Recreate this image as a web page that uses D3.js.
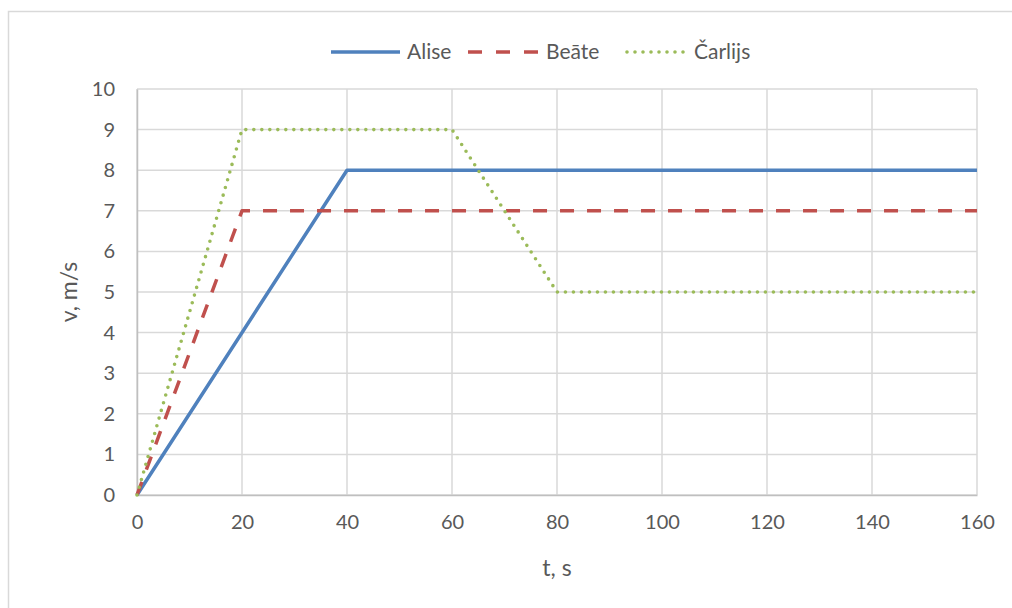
<!DOCTYPE html>
<html>
<head>
<meta charset="utf-8">
<script src="https://cdn.jsdelivr.net/npm/d3@7"></script>
<style>
  html, body { margin: 0; padding: 0; background: #fff; }
  svg { display: block; }
  text { font-family: Lato, "Open Sans", sans-serif; fill: #595959; }
</style>
</head>
<body>
<svg id="chart" width="1012" height="608"></svg>
<script>
// Speed over time for three runners
const seriesNames = ["Alise", "Beāte", "Čarlijs"];
const aliseT = [0, 40, 160];
const aliseV = [0, 8, 8];
const beateT = [0, 20, 160];
const beateV = [0, 7, 7];
const carlisT = [0, 20, 60, 80, 160];
const carlisV = [0, 9, 9, 5, 5];
const xTicks = [0, 20, 40, 60, 80, 100, 120, 140, 160];
const yTicks = [0, 1, 2, 3, 4, 5, 6, 7, 8, 9, 10];
const xTitle = "t, s";
const yTitle = "v, m/s";

const svg = d3.select("#chart");
const W = 1012, H = 608;
const plot = { left: 137, right: 977, top: 89, bottom: 495 };

const x = d3.scaleLinear().domain([0, 160]).range([plot.left, plot.right]);
const y = d3.scaleLinear().domain([0, 10]).range([plot.bottom, plot.top]);

// outer chart frame
svg.append("rect")
  .attr("x", 8.5).attr("y", 11.5)
  .attr("width", W).attr("height", H)
  .attr("fill", "none").attr("stroke", "#d9d9d9").attr("stroke-width", 1.5);

// gridlines
const grid = svg.append("g");
grid.selectAll(".hg").data(yTicks).join("line")
  .attr("x1", plot.left).attr("x2", plot.right)
  .attr("y1", d => y(d)).attr("y2", d => y(d))
  .attr("stroke", "#d9d9d9").attr("stroke-width", 1.5);
grid.selectAll(".vg").data(xTicks).join("line")
  .attr("x1", d => x(d)).attr("x2", d => x(d))
  .attr("y1", plot.top).attr("y2", plot.bottom)
  .attr("stroke", "#d9d9d9").attr("stroke-width", 1.5);

// axes
const xAxis = svg.append("g")
  .attr("transform", `translate(0,${plot.bottom})`)
  .call(d3.axisBottom(x).tickValues(xTicks).tickSize(0).tickPadding(20));
xAxis.select(".domain").attr("stroke", "#bfbfbf").attr("stroke-width", 1.5);
xAxis.selectAll("text").style("font-size", "20px").attr("fill", "#595959");

const yAxis = svg.append("g")
  .attr("transform", `translate(${plot.left},0)`)
  .call(d3.axisLeft(y).tickValues(yTicks).tickSize(0).tickPadding(22));
yAxis.select(".domain").attr("stroke", "#bfbfbf").attr("stroke-width", 1.5);
yAxis.selectAll("text").style("font-size", "20px").attr("fill", "#595959");

// axis titles
svg.append("text")
  .attr("x", (plot.left + plot.right) / 2).attr("y", 576)
  .attr("text-anchor", "middle").style("font-size", "23px")
  .text(xTitle);
svg.append("text")
  .attr("transform", `translate(77,${(plot.top + plot.bottom) / 2}) rotate(-90)`)
  .attr("text-anchor", "middle").style("font-size", "23px")
  .text(yTitle);

// series
const styles = [
  { color: "#4f81bd", dash: null, cap: "butt", width: 3.5 },
  { color: "#c0504d", dash: "14,13", cap: "butt", width: 3.5 },
  { color: "#9bbb59", dash: "0,8", cap: "round", width: 3.6 }
];
const series = [
  { name: seriesNames[0], pts: aliseT.map((t, i) => [t, aliseV[i]]) },
  { name: seriesNames[1], pts: beateT.map((t, i) => [t, beateV[i]]) },
  { name: seriesNames[2], pts: carlisT.map((t, i) => [t, carlisV[i]]) }
];
const line = d3.line().x(d => x(d[0])).y(d => y(d[1]));

series.forEach((s, i) => {
  const st = styles[i];
  svg.append("path")
    .attr("d", line(s.pts))
    .attr("fill", "none")
    .attr("stroke", st.color)
    .attr("stroke-width", st.width)
    .attr("stroke-linecap", st.cap)
    .attr("stroke-linejoin", "round")
    .attr("stroke-dasharray", st.dash);
});

// legend
const legendItems = [
  { x0: 331, x1: 400, tx: 407 },
  { x0: 468, x1: 539, tx: 546 },
  { x0: 627, x1: 688, tx: 694 }
];
const legend = svg.append("g");
legendItems.forEach((it, i) => {
  const st = styles[i];
  legend.append("line")
    .attr("x1", it.x0).attr("x2", it.x1)
    .attr("y1", 52).attr("y2", 52)
    .attr("stroke", st.color)
    .attr("stroke-width", st.width)
    .attr("stroke-linecap", st.cap)
    .attr("stroke-dasharray", i === 1 ? "14,14" : st.dash);
  legend.append("text")
    .attr("x", it.tx).attr("y", 52)
    .attr("dy", "0.35em")
    .style("font-size", "21px")
    .text(seriesNames[i]);
});
</script>
</body>
</html>
